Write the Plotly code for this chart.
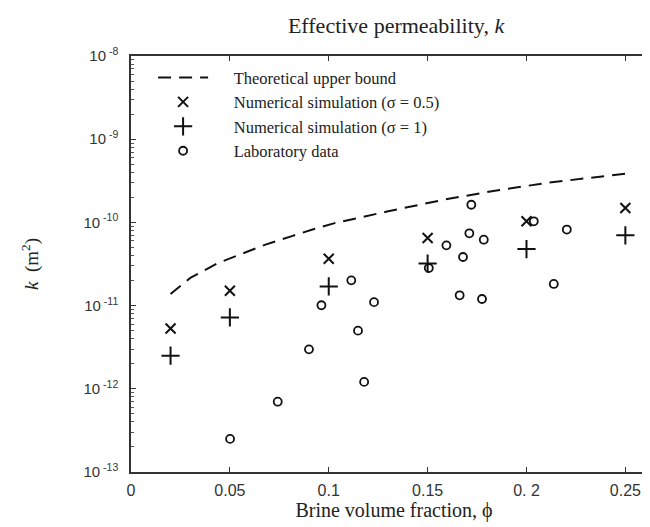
import plotly.graph_objects as go

# Theoretical upper bound
bound_phi = [0.02, 0.03, 0.044, 0.068, 0.081, 0.093, 0.103, 0.13, 0.158, 0.184, 0.21, 0.236, 0.25]
bound_k = [1.38e-11, 2.15e-11, 3.25e-11, 5.4e-11, 6.8e-11, 8.4e-11, 9.8e-11, 1.36e-10, 1.87e-10,
           2.4e-10, 2.98e-10, 3.5e-10, 3.85e-10]

# Numerical simulations
sim_phi = [0.02, 0.05, 0.10, 0.15, 0.20, 0.25]
sim05_k = [5.3e-12, 1.51e-11, 3.66e-11, 6.5e-11, 1.03e-10, 1.49e-10]
sim1_k = [2.5e-12, 7.2e-12, 1.7e-11, 3.2e-11, 4.78e-11, 7.0e-11]

# Laboratory data
lab_phi = [0.0501, 0.0742, 0.090, 0.0963, 0.1114, 0.1148, 0.1179, 0.1229, 0.1506, 0.1595,
           0.1662, 0.1679, 0.1711, 0.1721, 0.1775, 0.1784, 0.2037, 0.2138, 0.2204]
lab_k = [2.5e-13, 7.0e-13, 2.98e-12, 1.01e-11, 2.01e-11, 5.0e-12, 1.21e-12, 1.1e-11, 2.83e-11, 5.3e-11,
         1.33e-11, 3.84e-11, 7.4e-11, 1.63e-10, 1.2e-11, 6.2e-11, 1.03e-10, 1.82e-11, 8.2e-11]

x_ticks = [0, 0.05, 0.1, 0.15, 0.2, 0.25]
x_ticktext = ["0", "0.05", "0.1", "0.15", "0. 2", "0.25"]
y_exps = [-13, -12, -11, -10, -9, -8]

serif = "Liberation Serif, Times New Roman, serif"
sans = "Liberation Sans, Arial, sans-serif"
ink = "#111"
pad = "\u00a0" * 5  # gap between legend symbol and label

fig = go.Figure()
fig.add_trace(go.Scatter(x=bound_phi, y=bound_k, mode="lines", name=pad + "Theoretical upper bound",
                         line=dict(color=ink, width=2, dash="13px,8px")))
fig.add_trace(go.Scatter(x=sim_phi, y=sim05_k, mode="markers", name=pad + "Numerical simulation (σ = 0.5)",
                         marker=dict(symbol="x-thin-open", size=10, color=ink, line=dict(color=ink, width=2))))
fig.add_trace(go.Scatter(x=sim_phi, y=sim1_k, mode="markers", name=pad + "Numerical simulation (σ = 1)",
                         marker=dict(symbol="cross-thin-open", size=13, color=ink, line=dict(color=ink, width=2))))
fig.add_trace(go.Scatter(x=lab_phi, y=lab_k, mode="markers", name=pad + "Laboratory data",
                         marker=dict(symbol="circle-open", size=8, color=ink, line=dict(color=ink, width=1.8))))

minor_vals = [m * 10.0 ** e for e in range(-13, -8) for m in range(2, 10)]

fig.update_layout(
    width=650, height=527,
    margin=dict(l=123, r=1, t=48, b=63),
    paper_bgcolor="white", plot_bgcolor="white",
    title=dict(text="Effective permeability, <i>k</i>", x=0.597, xanchor="center", y=0.968, yanchor="middle",
               font=dict(family=serif, size=22, color="#222")),
    showlegend=True,
    legend=dict(x=0.042, y=0.99, xanchor="left", yanchor="top", bgcolor="rgba(0,0,0,0)",
                font=dict(family=serif, size=16.5, color="#222"), itemwidth=50, tracegroupgap=0),
    xaxis=dict(range=[0, 0.266], tickmode="array", tickvals=x_ticks, ticktext=x_ticktext,
               ticks="inside", ticklen=5, tickwidth=1, tickcolor="#333",
               showline=True, linecolor="#333", linewidth=1.5, mirror="ticks", showgrid=False, zeroline=False,
               ticklabelstandoff=3,
               tickfont=dict(family=sans, size=16, color="#333"),
               title=dict(text="Brine volume fraction, ϕ", font=dict(family=serif, size=20, color="#222"), standoff=3)),
    yaxis=dict(type="log", range=[-13, -8], tickmode="array",
               tickvals=[10.0 ** e for e in y_exps],
               ticktext=["10<sup> %d</sup>" % e for e in y_exps],
               ticks="inside", ticklen=5, tickwidth=1, tickcolor="#333",
               minor=dict(tickvals=minor_vals, ticks="inside", ticklen=3, tickcolor="#555", showgrid=False),
               showline=True, linecolor="#333", linewidth=1.5, showgrid=False, zeroline=False,
               ticklabelstandoff=8,
               tickfont=dict(family=sans, size=15, color="#333"),
               title=dict(text="<i>k</i>  (m<sup>2</sup>)", font=dict(family=serif, size=19, color="#222"), standoff=40)),
)

fig.write_html("out.html")
